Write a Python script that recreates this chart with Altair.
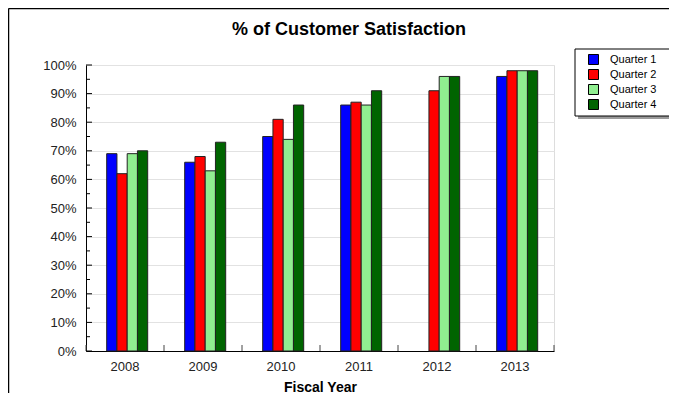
import altair as alt
import pandas as pd

years = ["2008", "2009", "2010", "2011", "2012", "2013"]
quarters = ["Quarter 1", "Quarter 2", "Quarter 3", "Quarter 4"]
q1 = [69, 66, 75, 86, None, 96]
q2 = [62, 68, 81, 87, 91, 98]
q3 = [69, 63, 74, 86, 96, 98]
q4 = [70, 73, 86, 91, 96, 98]
colors = ["#0000FF", "#FF0000", "#90EE90", "#006400"]
major_ticks = [0, 10, 20, 30, 40, 50, 60, 70, 80, 90, 100]
minor_ticks = [5, 15, 25, 35, 45, 55, 65, 75, 85, 95]

rows = []
for qname, series in zip(quarters, [q1, q2, q3, q4]):
    for yr, v in zip(years, series):
        if v is not None:
            rows.append({"year": yr, "quarter": qname, "value": v})
df = pd.DataFrame(rows)

W, H = 468, 286
FONT = "Liberation Sans"

xscale = alt.Scale(domain=years, paddingInner=0, paddingOuter=0)
yscale = alt.Scale(domain=[0, 100], nice=False)

xaxis = alt.Axis(title="Fiscal Year", labelAngle=0, ticks=False,
                 domainColor="black", labelFont=FONT, labelFontSize=13,
                 labelColor="#222222", labelPadding=9,
                 titleFont=FONT, titleFontSize=14, titleFontWeight="bold",
                 titleColor="black", titlePadding=7)
yaxis = alt.Axis(title=None, values=major_ticks, labelExpr="datum.value + '%'",
                 ticks=False, grid=True, gridColor="#e2e2e2", domainColor="black",
                 labelFont=FONT, labelFontSize=13, labelColor="#222222",
                 labelPadding=10)

bars = alt.Chart(df).mark_bar(stroke="#222222", strokeWidth=1).encode(
    x=alt.X("year:N", sort=years, scale=xscale, axis=xaxis, title="Fiscal Year"),
    xOffset=alt.XOffset("quarter:N", sort=quarters,
                        scale=alt.Scale(domain=quarters, paddingInner=0, paddingOuter=0,
                                        range=[20.7, 61.7])),
    y=alt.Y("value:Q", scale=yscale, axis=yaxis, title=None),
    color=alt.Color("quarter:N", sort=quarters,
                    scale=alt.Scale(domain=quarters, range=colors),
                    legend=alt.Legend(title=None, orient="none", legendX=502, legendY=-11,
                                      padding=0, symbolType="square", symbolSize=100,
                                      symbolStrokeColor="black", symbolStrokeWidth=1,
                                      symbolOffset=0, labelOffset=11, rowPadding=0,
                                      labelFont=FONT, labelFontSize=11, labelColor="black",
                                      zindex=2)),
)

year_df = pd.DataFrame({"year": years})
xticks = alt.Chart(year_df).mark_rule(color="#444444").encode(
    x=alt.X("year:N", sort=years, scale=xscale, bandPosition=0, axis=xaxis, title="Fiscal Year"),
    y=alt.value(H), y2=alt.value(H - 6))
xtick_end = alt.Chart(pd.DataFrame({"year": years[-1:]})).mark_rule(color="#444444").encode(
    x=alt.X("year:N", sort=years, scale=xscale, bandPosition=1, axis=xaxis, title="Fiscal Year"),
    y=alt.value(H), y2=alt.value(H - 6))

ymajor = alt.Chart(pd.DataFrame({"v": major_ticks})).mark_rule(color="black").encode(
    y=alt.Y("v:Q", scale=yscale, axis=yaxis, title=None), x=alt.value(0), x2=alt.value(6))
yminor = alt.Chart(pd.DataFrame({"v": minor_ticks})).mark_rule(color="black").encode(
    y=alt.Y("v:Q", scale=yscale, axis=yaxis, title=None), x=alt.value(0), x2=alt.value(4))

frame_df = pd.DataFrame({"part": ["frame"]})
frame_top = alt.Chart(frame_df).mark_rule(color="black", strokeWidth=1.5).encode(
    x=alt.value(-77.5), x2=alt.value(W + 200), y=alt.value(-56.5))
frame_left = alt.Chart(frame_df).mark_rule(color="black", strokeWidth=1.5).encode(
    x=alt.value(-77.5), y=alt.value(-56.5), y2=alt.value(H + 100))

legend_shadow = alt.Chart(frame_df).mark_rect(fill="#9a9a9a").encode(
    x=alt.value(492), x2=alt.value(587), y=alt.value(-13), y2=alt.value(54))
legend_box = alt.Chart(frame_df).mark_rect(fill="white", stroke="black", strokeWidth=1).encode(
    x=alt.value(489), x2=alt.value(584), y=alt.value(-16), y2=alt.value(51))

chart = alt.layer(
    bars, frame_top, frame_left, legend_shadow, legend_box, xticks, xtick_end, ymajor, yminor
).properties(
    width=W, height=H,
    title=alt.TitleParams("% of Customer Satisfaction", font=FONT, fontSize=18,
                          fontWeight="bold", color="black", anchor="middle",
                          frame="group", dx=29, offset=-31),
    autosize=alt.AutoSizeParams(type="none"),
    padding={"left": 78, "top": 57, "right": 115, "bottom": 42},
).configure_view(stroke=None).configure(background="white")

chart.save("out.html", embed_options={"renderer": "svg", "actions": False})
